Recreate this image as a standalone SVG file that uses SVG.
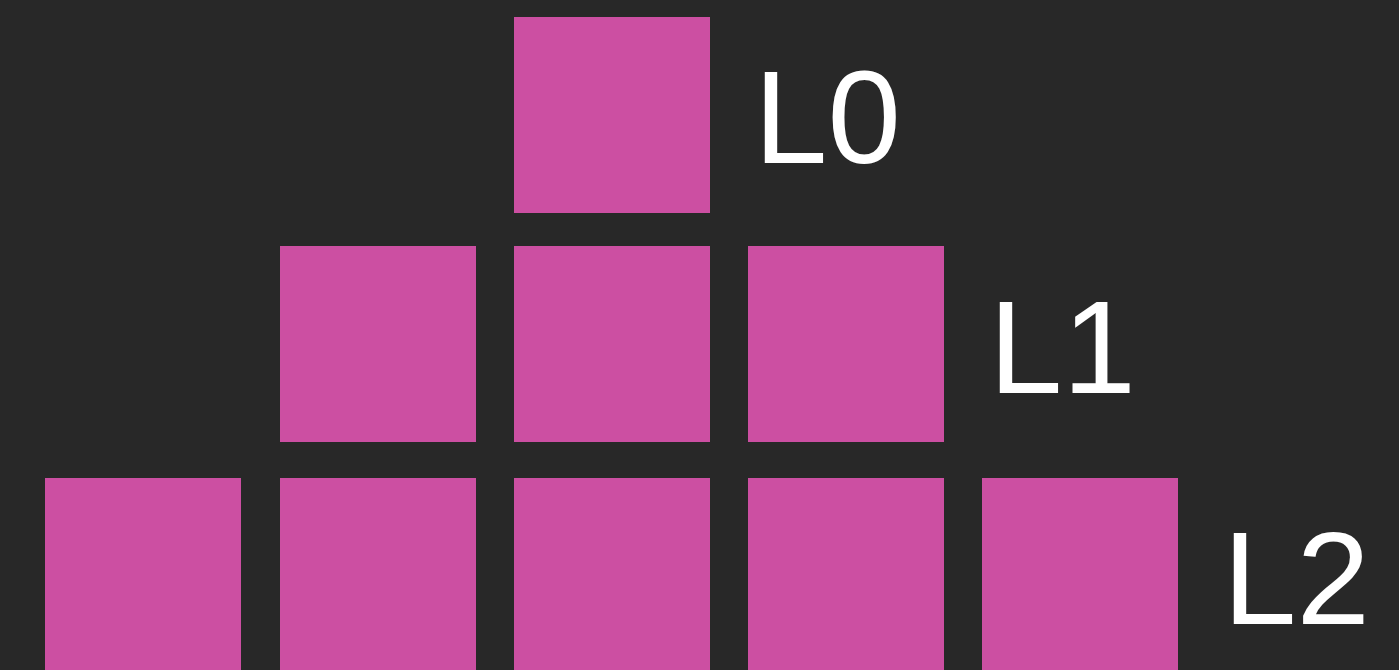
<svg xmlns="http://www.w3.org/2000/svg" width="1399" height="670" viewBox="0 0 1399 670">
<style>
.sq{fill:#cc4fa2}
.lbl{fill:#ffffff;font-family:"Liberation Sans",Arial,sans-serif;font-size:132px}
</style>
<rect width="1399" height="670" fill="#282828"/>
<g id="l0-0"><rect class="sq" x="514" y="17" width="196" height="196"/></g>
<g id="l1-0"><rect class="sq" x="280" y="246" width="196" height="196"/></g>
<g id="l1-1"><rect class="sq" x="514" y="246" width="196" height="196"/></g>
<g id="l1-2"><rect class="sq" x="748" y="246" width="196" height="196"/></g>
<g id="l2-0"><rect class="sq" x="45" y="478" width="196" height="196"/></g>
<g id="l2-1"><rect class="sq" x="280" y="478" width="196" height="196"/></g>
<g id="l2-2"><rect class="sq" x="514" y="478" width="196" height="196"/></g>
<g id="l2-3"><rect class="sq" x="748" y="478" width="196" height="196"/></g>
<g id="l2-4"><rect class="sq" x="982" y="478" width="196" height="196"/></g>
<g id="labels">
<text class="lbl" x="754" y="163">L0</text>
<text class="lbl" x="989" y="393">L1</text>
<text class="lbl" x="1223" y="624">L2</text>
</g>
<g id="connectors"/>
</svg>
